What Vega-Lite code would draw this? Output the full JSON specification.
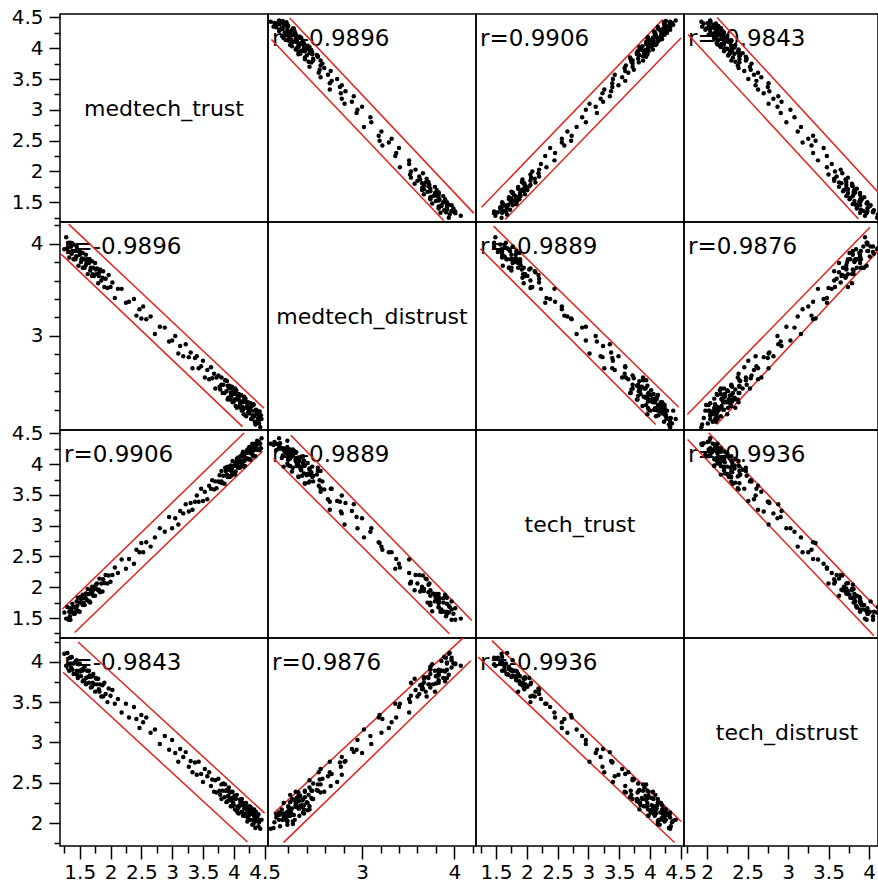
{
"$schema":"https://vega.github.io/schema/vega-lite/v6.json",
"padding":{"left":0,"top":6,"right":0,"bottom":0},
"background":"white",
"columns":4,"spacing":0,"bounds":"flush","align":"each",
"config":{
 "view":{"stroke":"#000","strokeWidth":1.5},
 "axis":{"domain":false,"grid":false,"labelFont":"DejaVu Sans","labelFontSize":20,"labelColor":"#000","tickColor":"#000","tickWidth":1.5,"labelOverlap":false,"labelFlush":false,"labelBound":false},
 "axisY":{"minExtent":59,"maxExtent":59,"labelPadding":6},
 "axisX":{"minExtent":40,"maxExtent":40,"labelPadding":3}
},
"datasets":{
"ell":[
{"pair":"mt_md","medtech_trust":1.32,"medtech_distrust":4.212,"medtech_trust_2":4.49,"medtech_distrust_2":2.215},
{"pair":"mt_md","medtech_trust":1.2,"medtech_distrust":3.886,"medtech_trust_2":4.14,"medtech_distrust_2":2.017},
{"pair":"mt_tt","medtech_trust":1.219,"tech_trust":1.646,"medtech_trust_2":4.167,"tech_trust_2":4.506},
{"pair":"mt_tt","medtech_trust":1.419,"tech_trust":1.265,"medtech_trust_2":4.465,"tech_trust_2":4.208},
{"pair":"mt_td","medtech_trust":1.473,"tech_distrust":4.245,"medtech_trust_2":4.5,"tech_distrust_2":2.124},
{"pair":"mt_td","medtech_trust":1.229,"tech_distrust":3.87,"medtech_trust_2":4.221,"tech_distrust_2":1.766},
{"pair":"md_tt","tech_trust":1.461,"medtech_distrust":4.19,"tech_trust_2":4.47,"medtech_distrust_2":2.227},
{"pair":"md_tt","tech_trust":1.245,"medtech_distrust":3.946,"tech_trust_2":4.095,"medtech_distrust_2":2.04},
{"pair":"md_td","tech_distrust":1.758,"medtech_distrust":2.148,"tech_distrust_2":4.012,"medtech_distrust_2":4.179},
{"pair":"md_td","tech_distrust":2.12,"medtech_distrust":2.04,"tech_distrust_2":4.3,"medtech_distrust_2":4.098},
{"pair":"tt_td","tech_trust":4.51,"tech_distrust":2.02,"tech_trust_2":1.433,"tech_distrust_2":4.262},
{"pair":"tt_td","tech_trust":4.4,"tech_distrust":1.76,"tech_trust_2":1.21,"tech_distrust_2":4.06}
],
"pts":[
{"medtech_trust":1.25,"medtech_distrust":3.94,"tech_trust":1.59,"tech_distrust":4.10},
{"medtech_trust":1.28,"medtech_distrust":4.07,"tech_trust":1.49,"tech_distrust":3.95},
{"medtech_trust":1.30,"medtech_distrust":3.95,"tech_trust":1.68,"tech_distrust":4.11},
{"medtech_trust":1.32,"medtech_distrust":4.01,"tech_trust":1.47,"tech_distrust":3.97},
{"medtech_trust":1.33,"medtech_distrust":3.85,"tech_trust":1.60,"tech_distrust":3.89},
{"medtech_trust":1.35,"medtech_distrust":3.97,"tech_trust":1.47,"tech_distrust":4.05},
{"medtech_trust":1.35,"medtech_distrust":4.01,"tech_trust":1.66,"tech_distrust":3.98},
{"medtech_trust":1.37,"medtech_distrust":3.89,"tech_trust":1.60,"tech_distrust":4.06},
{"medtech_trust":1.38,"medtech_distrust":3.92,"tech_trust":1.73,"tech_distrust":3.90},
{"medtech_trust":1.40,"medtech_distrust":3.99,"tech_trust":1.57,"tech_distrust":3.98},
{"medtech_trust":1.40,"medtech_distrust":3.83,"tech_trust":1.68,"tech_distrust":3.85},
{"medtech_trust":1.42,"medtech_distrust":3.92,"tech_trust":1.57,"tech_distrust":3.99},
{"medtech_trust":1.43,"medtech_distrust":3.83,"tech_trust":1.67,"tech_distrust":3.85},
{"medtech_trust":1.45,"medtech_distrust":3.97,"tech_trust":1.77,"tech_distrust":4.02},
{"medtech_trust":1.45,"medtech_distrust":3.86,"tech_trust":1.64,"tech_distrust":3.89},
{"medtech_trust":1.47,"medtech_distrust":3.92,"tech_trust":1.83,"tech_distrust":3.80},
{"medtech_trust":1.48,"medtech_distrust":3.76,"tech_trust":1.61,"tech_distrust":3.97},
{"medtech_trust":1.50,"medtech_distrust":3.88,"tech_trust":1.75,"tech_distrust":3.89},
{"medtech_trust":1.50,"medtech_distrust":3.92,"tech_trust":1.60,"tech_distrust":3.98},
{"medtech_trust":1.52,"medtech_distrust":3.80,"tech_trust":1.81,"tech_distrust":3.82},
{"medtech_trust":1.53,"medtech_distrust":3.83,"tech_trust":1.74,"tech_distrust":3.90},
{"medtech_trust":1.55,"medtech_distrust":3.90,"tech_trust":1.88,"tech_distrust":3.76},
{"medtech_trust":1.55,"medtech_distrust":3.74,"tech_trust":1.71,"tech_distrust":3.91},
{"medtech_trust":1.57,"medtech_distrust":3.83,"tech_trust":1.83,"tech_distrust":3.77},
{"medtech_trust":1.58,"medtech_distrust":3.74,"tech_trust":1.71,"tech_distrust":3.94},
{"medtech_trust":1.60,"medtech_distrust":3.88,"tech_trust":1.82,"tech_distrust":3.80},
{"medtech_trust":1.60,"medtech_distrust":3.77,"tech_trust":1.90,"tech_distrust":3.72},
{"medtech_trust":1.62,"medtech_distrust":3.83,"tech_trust":1.79,"tech_distrust":3.89},
{"medtech_trust":1.63,"medtech_distrust":3.67,"tech_trust":1.97,"tech_distrust":3.81},
{"medtech_trust":1.65,"medtech_distrust":3.79,"tech_trust":1.77,"tech_distrust":3.89},
{"medtech_trust":1.65,"medtech_distrust":3.83,"tech_trust":1.89,"tech_distrust":3.74},
{"medtech_trust":1.67,"medtech_distrust":3.71,"tech_trust":1.75,"tech_distrust":3.81},
{"medtech_trust":1.68,"medtech_distrust":3.74,"tech_trust":1.95,"tech_distrust":3.68},
{"medtech_trust":1.70,"medtech_distrust":3.81,"tech_trust":1.89,"tech_distrust":3.82},
{"medtech_trust":1.70,"medtech_distrust":3.65,"tech_trust":2.01,"tech_distrust":3.69},
{"medtech_trust":1.72,"medtech_distrust":3.74,"tech_trust":1.86,"tech_distrust":3.85},
{"medtech_trust":1.73,"medtech_distrust":3.65,"tech_trust":1.98,"tech_distrust":3.72},
{"medtech_trust":1.75,"medtech_distrust":3.79,"tech_trust":1.86,"tech_distrust":3.63},
{"medtech_trust":1.77,"medtech_distrust":3.67,"tech_trust":1.97,"tech_distrust":3.79},
{"medtech_trust":1.78,"medtech_distrust":3.73,"tech_trust":2.06,"tech_distrust":3.72},
{"medtech_trust":1.80,"medtech_distrust":3.57,"tech_trust":1.95,"tech_distrust":3.79},
{"medtech_trust":1.82,"medtech_distrust":3.69,"tech_trust":2.14,"tech_distrust":3.63},
{"medtech_trust":1.83,"medtech_distrust":3.72,"tech_trust":1.92,"tech_distrust":3.72},
{"medtech_trust":1.85,"medtech_distrust":3.60,"tech_trust":2.06,"tech_distrust":3.57},
{"medtech_trust":1.87,"medtech_distrust":3.63,"tech_trust":1.93,"tech_distrust":3.71},
{"medtech_trust":1.88,"medtech_distrust":3.70,"tech_trust":2.13,"tech_distrust":3.57},
{"medtech_trust":1.90,"medtech_distrust":3.53,"tech_trust":2.07,"tech_distrust":3.74},
{"medtech_trust":1.92,"medtech_distrust":3.62,"tech_trust":2.20,"tech_distrust":3.60},
{"medtech_trust":1.95,"medtech_distrust":3.52,"tech_trust":2.06,"tech_distrust":3.50},
{"medtech_trust":1.97,"medtech_distrust":3.66,"tech_trust":2.19,"tech_distrust":3.67},
{"medtech_trust":2.00,"medtech_distrust":3.53,"tech_trust":2.09,"tech_distrust":3.58},
{"medtech_trust":2.03,"medtech_distrust":3.58,"tech_trust":2.20,"tech_distrust":3.65},
{"medtech_trust":2.07,"medtech_distrust":3.41,"tech_trust":2.32,"tech_distrust":3.48},
{"medtech_trust":2.12,"medtech_distrust":3.51,"tech_trust":2.23,"tech_distrust":3.54},
{"medtech_trust":2.18,"medtech_distrust":3.51,"tech_trust":2.45,"tech_distrust":3.37},
{"medtech_trust":2.25,"medtech_distrust":3.36,"tech_trust":2.30,"tech_distrust":3.48},
{"medtech_trust":2.30,"medtech_distrust":3.37,"tech_trust":2.46,"tech_distrust":3.31},
{"medtech_trust":2.38,"medtech_distrust":3.40,"tech_trust":2.38,"tech_distrust":3.44},
{"medtech_trust":2.42,"medtech_distrust":3.22,"tech_trust":2.61,"tech_distrust":3.29},
{"medtech_trust":2.47,"medtech_distrust":3.29,"tech_trust":2.57,"tech_distrust":3.18},
{"medtech_trust":2.50,"medtech_distrust":3.19,"tech_trust":2.72,"tech_distrust":3.34},
{"medtech_trust":2.53,"medtech_distrust":3.32,"tech_trust":2.57,"tech_distrust":3.25},
{"medtech_trust":2.58,"medtech_distrust":3.18,"tech_trust":2.73,"tech_distrust":3.31},
{"medtech_trust":2.65,"medtech_distrust":3.21,"tech_trust":2.66,"tech_distrust":3.12},
{"medtech_trust":2.72,"medtech_distrust":3.02,"tech_trust":2.81,"tech_distrust":3.16},
{"medtech_trust":2.80,"medtech_distrust":3.10,"tech_trust":2.96,"tech_distrust":2.98},
{"medtech_trust":2.88,"medtech_distrust":3.09,"tech_trust":2.90,"tech_distrust":3.08},
{"medtech_trust":2.95,"medtech_distrust":2.94,"tech_trust":3.14,"tech_distrust":2.91},
{"medtech_trust":3.00,"medtech_distrust":2.95,"tech_trust":2.96,"tech_distrust":3.03},
{"medtech_trust":3.05,"medtech_distrust":3.00,"tech_trust":3.12,"tech_distrust":2.87},
{"medtech_trust":3.10,"medtech_distrust":2.81,"tech_trust":3.02,"tech_distrust":2.76},
{"medtech_trust":3.13,"medtech_distrust":2.89,"tech_trust":3.24,"tech_distrust":2.92},
{"medtech_trust":3.18,"medtech_distrust":2.78,"tech_trust":3.20,"tech_distrust":2.82},
{"medtech_trust":3.22,"medtech_distrust":2.91,"tech_trust":3.35,"tech_distrust":2.88},
{"medtech_trust":3.27,"medtech_distrust":2.77,"tech_trust":3.23,"tech_distrust":2.70},
{"medtech_trust":3.30,"medtech_distrust":2.82,"tech_trust":3.37,"tech_distrust":2.77},
{"medtech_trust":3.33,"medtech_distrust":2.65,"tech_trust":3.26,"tech_distrust":2.63},
{"medtech_trust":3.37,"medtech_distrust":2.76,"tech_trust":3.39,"tech_distrust":2.75},
{"medtech_trust":3.40,"medtech_distrust":2.78,"tech_trust":3.49,"tech_distrust":2.60},
{"medtech_trust":3.43,"medtech_distrust":2.65,"tech_trust":3.39,"tech_distrust":2.76},
{"medtech_trust":3.47,"medtech_distrust":2.67,"tech_trust":3.60,"tech_distrust":2.61},
{"medtech_trust":3.50,"medtech_distrust":2.73,"tech_trust":3.40,"tech_distrust":2.51},
{"medtech_trust":3.53,"medtech_distrust":2.55,"tech_trust":3.55,"tech_distrust":2.67},
{"medtech_trust":3.57,"medtech_distrust":2.63,"tech_trust":3.43,"tech_distrust":2.58},
{"medtech_trust":3.60,"medtech_distrust":2.53,"tech_trust":3.65,"tech_distrust":2.63},
{"medtech_trust":3.63,"medtech_distrust":2.66,"tech_trust":3.60,"tech_distrust":2.46},
{"medtech_trust":3.65,"medtech_distrust":2.54,"tech_trust":3.74,"tech_distrust":2.54},
{"medtech_trust":3.68,"medtech_distrust":2.59,"tech_trust":3.59,"tech_distrust":2.39},
{"medtech_trust":3.70,"medtech_distrust":2.43,"tech_trust":3.72,"tech_distrust":2.53},
{"medtech_trust":3.72,"medtech_distrust":2.55,"tech_trust":3.61,"tech_distrust":2.38},
{"medtech_trust":3.75,"medtech_distrust":2.57,"tech_trust":3.72,"tech_distrust":2.55},
{"medtech_trust":3.77,"medtech_distrust":2.45,"tech_trust":3.82,"tech_distrust":2.40},
{"medtech_trust":3.80,"medtech_distrust":2.47,"tech_trust":3.72,"tech_distrust":2.30},
{"medtech_trust":3.80,"medtech_distrust":2.55,"tech_trust":3.89,"tech_distrust":2.48},
{"medtech_trust":3.82,"medtech_distrust":2.38,"tech_trust":3.69,"tech_distrust":2.40},
{"medtech_trust":3.83,"medtech_distrust":2.47,"tech_trust":3.81,"tech_distrust":2.49},
{"medtech_trust":3.85,"medtech_distrust":2.38,"tech_trust":3.68,"tech_distrust":2.32},
{"medtech_trust":3.87,"medtech_distrust":2.52,"tech_trust":3.89,"tech_distrust":2.40},
{"medtech_trust":3.88,"medtech_distrust":2.40,"tech_trust":3.82,"tech_distrust":2.26},
{"medtech_trust":3.90,"medtech_distrust":2.46,"tech_trust":3.96,"tech_distrust":2.40},
{"medtech_trust":3.90,"medtech_distrust":2.31,"tech_trust":3.79,"tech_distrust":2.27},
{"medtech_trust":3.92,"medtech_distrust":2.43,"tech_trust":3.91,"tech_distrust":2.44},
{"medtech_trust":3.93,"medtech_distrust":2.46,"tech_trust":3.79,"tech_distrust":2.30},
{"medtech_trust":3.95,"medtech_distrust":2.34,"tech_trust":3.90,"tech_distrust":2.21},
{"medtech_trust":3.95,"medtech_distrust":2.38,"tech_trust":3.98,"tech_distrust":2.39},
{"medtech_trust":3.97,"medtech_distrust":2.45,"tech_trust":3.87,"tech_distrust":2.31},
{"medtech_trust":3.98,"medtech_distrust":2.28,"tech_trust":4.05,"tech_distrust":2.39},
{"medtech_trust":4.00,"medtech_distrust":2.37,"tech_trust":3.85,"tech_distrust":2.22},
{"medtech_trust":4.00,"medtech_distrust":2.29,"tech_trust":3.97,"tech_distrust":2.31},
{"medtech_trust":4.02,"medtech_distrust":2.43,"tech_trust":3.83,"tech_distrust":2.17},
{"medtech_trust":4.03,"medtech_distrust":2.31,"tech_trust":4.03,"tech_distrust":2.31},
{"medtech_trust":4.05,"medtech_distrust":2.37,"tech_trust":3.97,"tech_distrust":2.17},
{"medtech_trust":4.05,"medtech_distrust":2.22,"tech_trust":4.09,"tech_distrust":2.35},
{"medtech_trust":4.07,"medtech_distrust":2.34,"tech_trust":3.94,"tech_distrust":2.21},
{"medtech_trust":4.08,"medtech_distrust":2.37,"tech_trust":4.06,"tech_distrust":2.12},
{"medtech_trust":4.10,"medtech_distrust":2.25,"tech_trust":3.94,"tech_distrust":2.29},
{"medtech_trust":4.10,"medtech_distrust":2.29,"tech_trust":4.03,"tech_distrust":2.22},
{"medtech_trust":4.12,"medtech_distrust":2.36,"tech_trust":4.13,"tech_distrust":2.30},
{"medtech_trust":4.13,"medtech_distrust":2.19,"tech_trust":4.01,"tech_distrust":2.14},
{"medtech_trust":4.15,"medtech_distrust":2.28,"tech_trust":4.20,"tech_distrust":2.22},
{"medtech_trust":4.15,"medtech_distrust":2.20,"tech_trust":3.98,"tech_distrust":2.09},
{"medtech_trust":4.17,"medtech_distrust":2.34,"tech_trust":4.12,"tech_distrust":2.22},
{"medtech_trust":4.18,"medtech_distrust":2.22,"tech_trust":3.97,"tech_distrust":2.09},
{"medtech_trust":4.20,"medtech_distrust":2.28,"tech_trust":4.18,"tech_distrust":2.25},
{"medtech_trust":4.20,"medtech_distrust":2.13,"tech_trust":4.10,"tech_distrust":2.12},
{"medtech_trust":4.22,"medtech_distrust":2.25,"tech_trust":4.24,"tech_distrust":2.02},
{"medtech_trust":4.23,"medtech_distrust":2.28,"tech_trust":4.08,"tech_distrust":2.20},
{"medtech_trust":4.25,"medtech_distrust":2.16,"tech_trust":4.21,"tech_distrust":2.12},
{"medtech_trust":4.25,"medtech_distrust":2.20,"tech_trust":4.08,"tech_distrust":2.21},
{"medtech_trust":4.27,"medtech_distrust":2.27,"tech_trust":4.18,"tech_distrust":2.04},
{"medtech_trust":4.28,"medtech_distrust":2.10,"tech_trust":4.27,"tech_distrust":2.13},
{"medtech_trust":4.30,"medtech_distrust":2.19,"tech_trust":4.16,"tech_distrust":1.98},
{"medtech_trust":4.30,"medtech_distrust":2.11,"tech_trust":4.33,"tech_distrust":2.13},
{"medtech_trust":4.32,"medtech_distrust":2.25,"tech_trust":4.13,"tech_distrust":1.99},
{"medtech_trust":4.33,"medtech_distrust":2.13,"tech_trust":4.26,"tech_distrust":2.17},
{"medtech_trust":4.35,"medtech_distrust":2.19,"tech_trust":4.13,"tech_distrust":2.02},
{"medtech_trust":4.35,"medtech_distrust":2.04,"tech_trust":4.31,"tech_distrust":1.94},
{"medtech_trust":4.37,"medtech_distrust":2.16,"tech_trust":4.25,"tech_distrust":2.11},
{"medtech_trust":4.38,"medtech_distrust":2.19,"tech_trust":4.38,"tech_distrust":2.03},
{"medtech_trust":4.40,"medtech_distrust":2.07,"tech_trust":4.23,"tech_distrust":2.11},
{"medtech_trust":4.40,"medtech_distrust":2.11,"tech_trust":4.34,"tech_distrust":1.96},
{"medtech_trust":4.42,"medtech_distrust":2.18,"tech_trust":4.23,"tech_distrust":2.04},
{"medtech_trust":4.43,"medtech_distrust":2.01,"tech_trust":4.33,"tech_distrust":1.93},
{"medtech_trust":4.45,"medtech_distrust":2.10,"tech_trust":4.42,"tech_distrust":2.04},
{"medtech_trust":3.78,"medtech_distrust":2.42,"tech_trust":3.70,"tech_distrust":2.35},
{"medtech_trust":3.86,"medtech_distrust":2.52,"tech_trust":3.94,"tech_distrust":2.48},
{"medtech_trust":3.96,"medtech_distrust":2.35,"tech_trust":3.81,"tech_distrust":2.28},
{"medtech_trust":4.06,"medtech_distrust":2.36,"tech_trust":4.02,"tech_distrust":2.13},
{"medtech_trust":4.16,"medtech_distrust":2.15,"tech_trust":3.96,"tech_distrust":2.25},
{"medtech_trust":4.26,"medtech_distrust":2.22,"tech_trust":4.24,"tech_distrust":2.11},
{"medtech_trust":4.36,"medtech_distrust":2.20,"tech_trust":4.24,"tech_distrust":2.14},
{"medtech_trust":4.14,"medtech_distrust":2.23,"tech_trust":4.17,"tech_distrust":2.13},
{"medtech_trust":4.24,"medtech_distrust":2.21,"tech_trust":4.09,"tech_distrust":2.15},
{"medtech_trust":4.04,"medtech_distrust":2.41,"tech_trust":4.02,"tech_distrust":2.16},
{"medtech_trust":3.94,"medtech_distrust":2.31,"tech_trust":3.80,"tech_distrust":2.38},
{"medtech_trust":4.38,"medtech_distrust":2.15,"tech_trust":4.24,"tech_distrust":2.08},
{"medtech_trust":4.41,"medtech_distrust":2.05,"tech_trust":4.36,"tech_distrust":2.01},
{"medtech_trust":4.29,"medtech_distrust":2.24,"tech_trust":4.22,"tech_distrust":2.18},
{"medtech_trust":4.31,"medtech_distrust":2.14,"tech_trust":4.14,"tech_distrust":2.04},
{"medtech_trust":4.21,"medtech_distrust":2.22,"tech_trust":4.20,"tech_distrust":2.17},
{"medtech_trust":4.19,"medtech_distrust":2.32,"tech_trust":4.08,"tech_distrust":2.09},
{"medtech_trust":4.11,"medtech_distrust":2.22,"tech_trust":4.13,"tech_distrust":2.26},
{"medtech_trust":4.09,"medtech_distrust":2.34,"tech_trust":3.96,"tech_distrust":2.21},
{"medtech_trust":4.01,"medtech_distrust":2.31,"tech_trust":3.98,"tech_distrust":2.34},
{"medtech_trust":3.99,"medtech_distrust":2.41,"tech_trust":3.84,"tech_distrust":2.25},
{"medtech_trust":3.91,"medtech_distrust":2.33,"tech_trust":3.93,"tech_distrust":2.34},
{"medtech_trust":3.89,"medtech_distrust":2.51,"tech_trust":3.83,"tech_distrust":2.41},
{"medtech_trust":4.44,"medtech_distrust":2.14,"tech_trust":4.26,"tech_distrust":2.04},
{"medtech_trust":4.34,"medtech_distrust":2.07,"tech_trust":4.33,"tech_distrust":2.07},
{"medtech_trust":4.27,"medtech_distrust":2.20,"tech_trust":4.07,"tech_distrust":2.20},
{"medtech_trust":4.23,"medtech_distrust":2.17,"tech_trust":4.19,"tech_distrust":2.06},
{"medtech_trust":4.17,"medtech_distrust":2.32,"tech_trust":4.05,"tech_distrust":2.18},
{"medtech_trust":4.07,"medtech_distrust":2.31,"tech_trust":4.11,"tech_distrust":2.18},
{"medtech_trust":4.03,"medtech_distrust":2.24,"tech_trust":3.88,"tech_distrust":2.30},
{"medtech_trust":3.97,"medtech_distrust":2.43,"tech_trust":3.93,"tech_distrust":2.21},
{"medtech_trust":4.13,"medtech_distrust":2.29,"tech_trust":4.06,"tech_distrust":2.30},
{"medtech_trust":4.25,"medtech_distrust":2.19,"tech_trust":4.28,"tech_distrust":2.10},
{"medtech_trust":4.32,"medtech_distrust":2.26,"tech_trust":4.22,"tech_distrust":2.10},
{"medtech_trust":4.39,"medtech_distrust":2.10,"tech_trust":4.32,"tech_distrust":2.10},
{"medtech_trust":1.36,"medtech_distrust":3.97,"tech_trust":1.64,"tech_distrust":3.93},
{"medtech_trust":1.44,"medtech_distrust":3.86,"tech_trust":1.60,"tech_distrust":4.01},
{"medtech_trust":1.51,"medtech_distrust":3.90,"tech_trust":1.84,"tech_distrust":3.88},
{"medtech_trust":1.56,"medtech_distrust":3.74,"tech_trust":1.75,"tech_distrust":3.90},
{"medtech_trust":1.61,"medtech_distrust":3.80,"tech_trust":1.89,"tech_distrust":3.73},
{"medtech_trust":1.66,"medtech_distrust":3.83,"tech_trust":1.77,"tech_distrust":3.83},
{"medtech_trust":1.71,"medtech_distrust":3.67,"tech_trust":1.94,"tech_distrust":3.74},
{"medtech_trust":1.76,"medtech_distrust":3.72,"tech_trust":2.04,"tech_distrust":3.80},
{"medtech_trust":1.46,"medtech_distrust":3.94,"tech_trust":1.70,"tech_distrust":3.84},
{"medtech_trust":1.34,"medtech_distrust":3.91,"tech_trust":1.53,"tech_distrust":4.05},
{"medtech_trust":1.54,"medtech_distrust":3.84,"tech_trust":1.82,"tech_distrust":3.89},
{"medtech_trust":1.81,"medtech_distrust":3.65,"tech_trust":1.96,"tech_distrust":3.66}
]
},
"concat":[
{"width":208,"height":208,"layer":[
 {"data":{"name":"pts"},"mark":{"type":"circle","opacity":0},"encoding":{
  "x":{"field":"medtech_trust","type":"quantitative","scale":{"domain":[1.18,4.555],"zero":false,"nice":false},"axis":null},
  "y":{"field":"medtech_trust","type":"quantitative","scale":{"domain":[1.18,4.555],"zero":false,"nice":false},"axis":{"title":null,"values":[1.25,1.5,1.75,2,2.25,2.5,2.75,3,3.25,3.5,3.75,4,4.25,4.5],"format":"~g","labelExpr":"datum.value*2===round(datum.value*2)?datum.label:''","tickSize":{"condition":{"test":"datum.value*2===round(datum.value*2)","value":11},"value":6}}}}},
 {"data":{"values":[{"variable":"medtech_trust"}]},"mark":{"type":"text","font":"DejaVu Sans","fontSize":22,"color":"#000","baseline":"middle","dy":-9},"encoding":{"text":{"field":"variable"}}}
]},
{"width":208,"height":208,"layer":[
 {"data":{"values":[{"label":"r=-0.9896"}]},"mark":{"type":"text","align":"left","baseline":"alphabetic","dx":4,"dy":32,"font":"DejaVu Sans","fontSize":23,"color":"#000"},"encoding":{"x":{"datum":1.98,"type":"quantitative","scale":{"domain":[1.98,4.235],"zero":false,"nice":false},"axis":null},"y":{"datum":4.555,"type":"quantitative","scale":{"domain":[1.18,4.555],"zero":false,"nice":false},"axis":null},"text":{"field":"label"}}},
 {"data":{"name":"ell"},"transform":[{"filter":"datum.pair==='mt_md'"}],"mark":{"type":"rule","color":"#e3221c","strokeWidth":1.5,"clip":true},"encoding":{"x":{"field":"medtech_distrust","type":"quantitative","scale":{"domain":[1.98,4.235],"zero":false,"nice":false},"axis":null},"y":{"field":"medtech_trust","type":"quantitative","scale":{"domain":[1.18,4.555],"zero":false,"nice":false},"axis":null},"x2":{"field":"medtech_distrust_2"},"y2":{"field":"medtech_trust_2"}}},
 {"data":{"name":"pts"},"mark":{"type":"circle","size":20,"color":"#000","opacity":1},"encoding":{"x":{"field":"medtech_distrust","type":"quantitative","scale":{"domain":[1.98,4.235],"zero":false,"nice":false},"axis":null},"y":{"field":"medtech_trust","type":"quantitative","scale":{"domain":[1.18,4.555],"zero":false,"nice":false},"axis":null}}}
]},
{"width":208,"height":208,"layer":[
 {"data":{"values":[{"label":"r=0.9906"}]},"mark":{"type":"text","align":"left","baseline":"alphabetic","dx":4,"dy":32,"font":"DejaVu Sans","fontSize":23,"color":"#000"},"encoding":{"x":{"datum":1.175,"type":"quantitative","scale":{"domain":[1.175,4.555],"zero":false,"nice":false},"axis":null},"y":{"datum":4.555,"type":"quantitative","scale":{"domain":[1.18,4.555],"zero":false,"nice":false},"axis":null},"text":{"field":"label"}}},
 {"data":{"name":"ell"},"transform":[{"filter":"datum.pair==='mt_tt'"}],"mark":{"type":"rule","color":"#e3221c","strokeWidth":1.5,"clip":true},"encoding":{"x":{"field":"tech_trust","type":"quantitative","scale":{"domain":[1.175,4.555],"zero":false,"nice":false},"axis":null},"y":{"field":"medtech_trust","type":"quantitative","scale":{"domain":[1.18,4.555],"zero":false,"nice":false},"axis":null},"x2":{"field":"tech_trust_2"},"y2":{"field":"medtech_trust_2"}}},
 {"data":{"name":"pts"},"mark":{"type":"circle","size":20,"color":"#000","opacity":1},"encoding":{"x":{"field":"tech_trust","type":"quantitative","scale":{"domain":[1.175,4.555],"zero":false,"nice":false},"axis":null},"y":{"field":"medtech_trust","type":"quantitative","scale":{"domain":[1.18,4.555],"zero":false,"nice":false},"axis":null}}}
]},
{"width":194,"height":208,"layer":[
 {"data":{"values":[{"label":"r=-0.9843"}]},"mark":{"type":"text","align":"left","baseline":"alphabetic","dx":4,"dy":32,"font":"DejaVu Sans","fontSize":23,"color":"#000"},"encoding":{"x":{"datum":1.716,"type":"quantitative","scale":{"domain":[1.716,4.111],"zero":false,"nice":false},"axis":null},"y":{"datum":4.555,"type":"quantitative","scale":{"domain":[1.18,4.555],"zero":false,"nice":false},"axis":null},"text":{"field":"label"}}},
 {"data":{"name":"ell"},"transform":[{"filter":"datum.pair==='mt_td'"}],"mark":{"type":"rule","color":"#e3221c","strokeWidth":1.5,"clip":true},"encoding":{"x":{"field":"tech_distrust","type":"quantitative","scale":{"domain":[1.716,4.111],"zero":false,"nice":false},"axis":null},"y":{"field":"medtech_trust","type":"quantitative","scale":{"domain":[1.18,4.555],"zero":false,"nice":false},"axis":null},"x2":{"field":"tech_distrust_2"},"y2":{"field":"medtech_trust_2"}}},
 {"data":{"name":"pts"},"mark":{"type":"circle","size":20,"color":"#000","opacity":1},"encoding":{"x":{"field":"tech_distrust","type":"quantitative","scale":{"domain":[1.716,4.111],"zero":false,"nice":false},"axis":null},"y":{"field":"medtech_trust","type":"quantitative","scale":{"domain":[1.18,4.555],"zero":false,"nice":false},"axis":null}}}
]},

{"width":208,"height":208,"layer":[
 {"data":{"values":[{"label":"r=-0.9896"}]},"mark":{"type":"text","align":"left","baseline":"alphabetic","dx":4,"dy":32,"font":"DejaVu Sans","fontSize":23,"color":"#000"},"encoding":{"x":{"datum":1.18,"type":"quantitative","scale":{"domain":[1.18,4.555],"zero":false,"nice":false},"axis":null},"y":{"datum":4.235,"type":"quantitative","scale":{"domain":[1.98,4.235],"zero":false,"nice":false},"axis":{"title":null,"values":[2.2,2.4,2.6,2.8,3,3.2,3.4,3.6,3.8,4,4.2],"format":"~g","labelExpr":"datum.value===3||datum.value===4?datum.label:''","tickSize":{"condition":{"test":"datum.value===3||datum.value===4","value":11},"value":6}}},"text":{"field":"label"}}},
 {"data":{"name":"ell"},"transform":[{"filter":"datum.pair==='mt_md'"}],"mark":{"type":"rule","color":"#e3221c","strokeWidth":1.5,"clip":true},"encoding":{"x":{"field":"medtech_trust","type":"quantitative","scale":{"domain":[1.18,4.555],"zero":false,"nice":false},"axis":null},"y":{"field":"medtech_distrust","type":"quantitative","scale":{"domain":[1.98,4.235],"zero":false,"nice":false},"axis":{"title":null,"values":[2.2,2.4,2.6,2.8,3,3.2,3.4,3.6,3.8,4,4.2],"format":"~g","labelExpr":"datum.value===3||datum.value===4?datum.label:''","tickSize":{"condition":{"test":"datum.value===3||datum.value===4","value":11},"value":6}}},"x2":{"field":"medtech_trust_2"},"y2":{"field":"medtech_distrust_2"}}},
 {"data":{"name":"pts"},"mark":{"type":"circle","size":20,"color":"#000","opacity":1},"encoding":{"x":{"field":"medtech_trust","type":"quantitative","scale":{"domain":[1.18,4.555],"zero":false,"nice":false},"axis":null},"y":{"field":"medtech_distrust","type":"quantitative","scale":{"domain":[1.98,4.235],"zero":false,"nice":false},"axis":{"title":null,"values":[2.2,2.4,2.6,2.8,3,3.2,3.4,3.6,3.8,4,4.2],"format":"~g","labelExpr":"datum.value===3||datum.value===4?datum.label:''","tickSize":{"condition":{"test":"datum.value===3||datum.value===4","value":11},"value":6}}}}}
]},
{"width":208,"height":208,"layer":[
 {"data":{"name":"pts"},"mark":{"type":"circle","opacity":0},"encoding":{
  "x":{"field":"medtech_distrust","type":"quantitative","scale":{"domain":[1.98,4.235],"zero":false,"nice":false},"axis":null},
  "y":{"field":"medtech_distrust","type":"quantitative","scale":{"domain":[1.98,4.235],"zero":false,"nice":false},"axis":null}}},
 {"data":{"values":[{"variable":"medtech_distrust"}]},"mark":{"type":"text","font":"DejaVu Sans","fontSize":22,"color":"#000","baseline":"middle","dy":-9},"encoding":{"text":{"field":"variable"}}}
]},
{"width":208,"height":208,"layer":[
 {"data":{"values":[{"label":"r=-0.9889"}]},"mark":{"type":"text","align":"left","baseline":"alphabetic","dx":4,"dy":32,"font":"DejaVu Sans","fontSize":23,"color":"#000"},"encoding":{"x":{"datum":1.175,"type":"quantitative","scale":{"domain":[1.175,4.555],"zero":false,"nice":false},"axis":null},"y":{"datum":4.235,"type":"quantitative","scale":{"domain":[1.98,4.235],"zero":false,"nice":false},"axis":null},"text":{"field":"label"}}},
 {"data":{"name":"ell"},"transform":[{"filter":"datum.pair==='md_tt'"}],"mark":{"type":"rule","color":"#e3221c","strokeWidth":1.5,"clip":true},"encoding":{"x":{"field":"tech_trust","type":"quantitative","scale":{"domain":[1.175,4.555],"zero":false,"nice":false},"axis":null},"y":{"field":"medtech_distrust","type":"quantitative","scale":{"domain":[1.98,4.235],"zero":false,"nice":false},"axis":null},"x2":{"field":"tech_trust_2"},"y2":{"field":"medtech_distrust_2"}}},
 {"data":{"name":"pts"},"mark":{"type":"circle","size":20,"color":"#000","opacity":1},"encoding":{"x":{"field":"tech_trust","type":"quantitative","scale":{"domain":[1.175,4.555],"zero":false,"nice":false},"axis":null},"y":{"field":"medtech_distrust","type":"quantitative","scale":{"domain":[1.98,4.235],"zero":false,"nice":false},"axis":null}}}
]},
{"width":194,"height":208,"layer":[
 {"data":{"values":[{"label":"r=0.9876"}]},"mark":{"type":"text","align":"left","baseline":"alphabetic","dx":4,"dy":32,"font":"DejaVu Sans","fontSize":23,"color":"#000"},"encoding":{"x":{"datum":1.716,"type":"quantitative","scale":{"domain":[1.716,4.111],"zero":false,"nice":false},"axis":null},"y":{"datum":4.235,"type":"quantitative","scale":{"domain":[1.98,4.235],"zero":false,"nice":false},"axis":null},"text":{"field":"label"}}},
 {"data":{"name":"ell"},"transform":[{"filter":"datum.pair==='md_td'"}],"mark":{"type":"rule","color":"#e3221c","strokeWidth":1.5,"clip":true},"encoding":{"x":{"field":"tech_distrust","type":"quantitative","scale":{"domain":[1.716,4.111],"zero":false,"nice":false},"axis":null},"y":{"field":"medtech_distrust","type":"quantitative","scale":{"domain":[1.98,4.235],"zero":false,"nice":false},"axis":null},"x2":{"field":"tech_distrust_2"},"y2":{"field":"medtech_distrust_2"}}},
 {"data":{"name":"pts"},"mark":{"type":"circle","size":20,"color":"#000","opacity":1},"encoding":{"x":{"field":"tech_distrust","type":"quantitative","scale":{"domain":[1.716,4.111],"zero":false,"nice":false},"axis":null},"y":{"field":"medtech_distrust","type":"quantitative","scale":{"domain":[1.98,4.235],"zero":false,"nice":false},"axis":null}}}
]},

{"width":208,"height":208,"layer":[
 {"data":{"values":[{"label":"r=0.9906"}]},"mark":{"type":"text","align":"left","baseline":"alphabetic","dx":4,"dy":32,"font":"DejaVu Sans","fontSize":23,"color":"#000"},"encoding":{"x":{"datum":1.18,"type":"quantitative","scale":{"domain":[1.18,4.555],"zero":false,"nice":false},"axis":null},"y":{"datum":4.555,"type":"quantitative","scale":{"domain":[1.175,4.555],"zero":false,"nice":false},"axis":{"title":null,"values":[1.25,1.5,1.75,2,2.25,2.5,2.75,3,3.25,3.5,3.75,4,4.25,4.5],"format":"~g","labelExpr":"datum.value*2===round(datum.value*2)?datum.label:''","tickSize":{"condition":{"test":"datum.value*2===round(datum.value*2)","value":11},"value":6}}},"text":{"field":"label"}}},
 {"data":{"name":"ell"},"transform":[{"filter":"datum.pair==='mt_tt'"}],"mark":{"type":"rule","color":"#e3221c","strokeWidth":1.5,"clip":true},"encoding":{"x":{"field":"medtech_trust","type":"quantitative","scale":{"domain":[1.18,4.555],"zero":false,"nice":false},"axis":null},"y":{"field":"tech_trust","type":"quantitative","scale":{"domain":[1.175,4.555],"zero":false,"nice":false},"axis":{"title":null,"values":[1.25,1.5,1.75,2,2.25,2.5,2.75,3,3.25,3.5,3.75,4,4.25,4.5],"format":"~g","labelExpr":"datum.value*2===round(datum.value*2)?datum.label:''","tickSize":{"condition":{"test":"datum.value*2===round(datum.value*2)","value":11},"value":6}}},"x2":{"field":"medtech_trust_2"},"y2":{"field":"tech_trust_2"}}},
 {"data":{"name":"pts"},"mark":{"type":"circle","size":20,"color":"#000","opacity":1},"encoding":{"x":{"field":"medtech_trust","type":"quantitative","scale":{"domain":[1.18,4.555],"zero":false,"nice":false},"axis":null},"y":{"field":"tech_trust","type":"quantitative","scale":{"domain":[1.175,4.555],"zero":false,"nice":false},"axis":{"title":null,"values":[1.25,1.5,1.75,2,2.25,2.5,2.75,3,3.25,3.5,3.75,4,4.25,4.5],"format":"~g","labelExpr":"datum.value*2===round(datum.value*2)?datum.label:''","tickSize":{"condition":{"test":"datum.value*2===round(datum.value*2)","value":11},"value":6}}}}}
]},
{"width":208,"height":208,"layer":[
 {"data":{"values":[{"label":"r=-0.9889"}]},"mark":{"type":"text","align":"left","baseline":"alphabetic","dx":4,"dy":32,"font":"DejaVu Sans","fontSize":23,"color":"#000"},"encoding":{"x":{"datum":1.98,"type":"quantitative","scale":{"domain":[1.98,4.235],"zero":false,"nice":false},"axis":null},"y":{"datum":4.555,"type":"quantitative","scale":{"domain":[1.175,4.555],"zero":false,"nice":false},"axis":null},"text":{"field":"label"}}},
 {"data":{"name":"ell"},"transform":[{"filter":"datum.pair==='md_tt'"}],"mark":{"type":"rule","color":"#e3221c","strokeWidth":1.5,"clip":true},"encoding":{"x":{"field":"medtech_distrust","type":"quantitative","scale":{"domain":[1.98,4.235],"zero":false,"nice":false},"axis":null},"y":{"field":"tech_trust","type":"quantitative","scale":{"domain":[1.175,4.555],"zero":false,"nice":false},"axis":null},"x2":{"field":"medtech_distrust_2"},"y2":{"field":"tech_trust_2"}}},
 {"data":{"name":"pts"},"mark":{"type":"circle","size":20,"color":"#000","opacity":1},"encoding":{"x":{"field":"medtech_distrust","type":"quantitative","scale":{"domain":[1.98,4.235],"zero":false,"nice":false},"axis":null},"y":{"field":"tech_trust","type":"quantitative","scale":{"domain":[1.175,4.555],"zero":false,"nice":false},"axis":null}}}
]},
{"width":208,"height":208,"layer":[
 {"data":{"name":"pts"},"mark":{"type":"circle","opacity":0},"encoding":{
  "x":{"field":"tech_trust","type":"quantitative","scale":{"domain":[1.175,4.555],"zero":false,"nice":false},"axis":null},
  "y":{"field":"tech_trust","type":"quantitative","scale":{"domain":[1.175,4.555],"zero":false,"nice":false},"axis":null}}},
 {"data":{"values":[{"variable":"tech_trust"}]},"mark":{"type":"text","font":"DejaVu Sans","fontSize":22,"color":"#000","baseline":"middle","dy":-9},"encoding":{"text":{"field":"variable"}}}
]},
{"width":194,"height":208,"layer":[
 {"data":{"values":[{"label":"r=-0.9936"}]},"mark":{"type":"text","align":"left","baseline":"alphabetic","dx":4,"dy":32,"font":"DejaVu Sans","fontSize":23,"color":"#000"},"encoding":{"x":{"datum":1.716,"type":"quantitative","scale":{"domain":[1.716,4.111],"zero":false,"nice":false},"axis":null},"y":{"datum":4.555,"type":"quantitative","scale":{"domain":[1.175,4.555],"zero":false,"nice":false},"axis":null},"text":{"field":"label"}}},
 {"data":{"name":"ell"},"transform":[{"filter":"datum.pair==='tt_td'"}],"mark":{"type":"rule","color":"#e3221c","strokeWidth":1.5,"clip":true},"encoding":{"x":{"field":"tech_distrust","type":"quantitative","scale":{"domain":[1.716,4.111],"zero":false,"nice":false},"axis":null},"y":{"field":"tech_trust","type":"quantitative","scale":{"domain":[1.175,4.555],"zero":false,"nice":false},"axis":null},"x2":{"field":"tech_distrust_2"},"y2":{"field":"tech_trust_2"}}},
 {"data":{"name":"pts"},"mark":{"type":"circle","size":20,"color":"#000","opacity":1},"encoding":{"x":{"field":"tech_distrust","type":"quantitative","scale":{"domain":[1.716,4.111],"zero":false,"nice":false},"axis":null},"y":{"field":"tech_trust","type":"quantitative","scale":{"domain":[1.175,4.555],"zero":false,"nice":false},"axis":null}}}
]},

{"width":208,"height":208,"layer":[
 {"data":{"values":[{"label":"r=-0.9843"}]},"mark":{"type":"text","align":"left","baseline":"alphabetic","dx":4,"dy":32,"font":"DejaVu Sans","fontSize":23,"color":"#000"},"encoding":{"x":{"datum":1.18,"type":"quantitative","scale":{"domain":[1.18,4.555],"zero":false,"nice":false},"axis":{"title":null,"values":[1.25,1.5,1.75,2,2.25,2.5,2.75,3,3.25,3.5,3.75,4,4.25,4.5],"format":"~g","labelExpr":"datum.value*2===round(datum.value*2)?datum.label:''","tickSize":{"condition":{"test":"datum.value*2===round(datum.value*2)","value":13},"value":7}}},"y":{"datum":4.295,"type":"quantitative","scale":{"domain":[1.716,4.295],"zero":false,"nice":false},"axis":{"title":null,"values":[1.75,2,2.25,2.5,2.75,3,3.25,3.5,3.75,4,4.25],"format":"~g","labelExpr":"datum.value*2===round(datum.value*2)?datum.label:''","tickSize":{"condition":{"test":"datum.value*2===round(datum.value*2)","value":11},"value":6}}},"text":{"field":"label"}}},
 {"data":{"name":"ell"},"transform":[{"filter":"datum.pair==='mt_td'"}],"mark":{"type":"rule","color":"#e3221c","strokeWidth":1.5,"clip":true},"encoding":{"x":{"field":"medtech_trust","type":"quantitative","scale":{"domain":[1.18,4.555],"zero":false,"nice":false},"axis":{"title":null,"values":[1.25,1.5,1.75,2,2.25,2.5,2.75,3,3.25,3.5,3.75,4,4.25,4.5],"format":"~g","labelExpr":"datum.value*2===round(datum.value*2)?datum.label:''","tickSize":{"condition":{"test":"datum.value*2===round(datum.value*2)","value":13},"value":7}}},"y":{"field":"tech_distrust","type":"quantitative","scale":{"domain":[1.716,4.295],"zero":false,"nice":false},"axis":{"title":null,"values":[1.75,2,2.25,2.5,2.75,3,3.25,3.5,3.75,4,4.25],"format":"~g","labelExpr":"datum.value*2===round(datum.value*2)?datum.label:''","tickSize":{"condition":{"test":"datum.value*2===round(datum.value*2)","value":11},"value":6}}},"x2":{"field":"medtech_trust_2"},"y2":{"field":"tech_distrust_2"}}},
 {"data":{"name":"pts"},"mark":{"type":"circle","size":20,"color":"#000","opacity":1},"encoding":{"x":{"field":"medtech_trust","type":"quantitative","scale":{"domain":[1.18,4.555],"zero":false,"nice":false},"axis":{"title":null,"values":[1.25,1.5,1.75,2,2.25,2.5,2.75,3,3.25,3.5,3.75,4,4.25,4.5],"format":"~g","labelExpr":"datum.value*2===round(datum.value*2)?datum.label:''","tickSize":{"condition":{"test":"datum.value*2===round(datum.value*2)","value":13},"value":7}}},"y":{"field":"tech_distrust","type":"quantitative","scale":{"domain":[1.716,4.295],"zero":false,"nice":false},"axis":{"title":null,"values":[1.75,2,2.25,2.5,2.75,3,3.25,3.5,3.75,4,4.25],"format":"~g","labelExpr":"datum.value*2===round(datum.value*2)?datum.label:''","tickSize":{"condition":{"test":"datum.value*2===round(datum.value*2)","value":11},"value":6}}}}}
]},
{"width":208,"height":208,"layer":[
 {"data":{"values":[{"label":"r=0.9876"}]},"mark":{"type":"text","align":"left","baseline":"alphabetic","dx":4,"dy":32,"font":"DejaVu Sans","fontSize":23,"color":"#000"},"encoding":{"x":{"datum":1.98,"type":"quantitative","scale":{"domain":[1.98,4.235],"zero":false,"nice":false},"axis":{"title":null,"values":[2.2,2.4,2.6,2.8,3,3.2,3.4,3.6,3.8,4,4.2],"format":"~g","labelExpr":"datum.value===3||datum.value===4?datum.label:''","tickSize":{"condition":{"test":"datum.value===3||datum.value===4","value":13},"value":7}}},"y":{"datum":4.295,"type":"quantitative","scale":{"domain":[1.716,4.295],"zero":false,"nice":false},"axis":null},"text":{"field":"label"}}},
 {"data":{"name":"ell"},"transform":[{"filter":"datum.pair==='md_td'"}],"mark":{"type":"rule","color":"#e3221c","strokeWidth":1.5,"clip":true},"encoding":{"x":{"field":"medtech_distrust","type":"quantitative","scale":{"domain":[1.98,4.235],"zero":false,"nice":false},"axis":{"title":null,"values":[2.2,2.4,2.6,2.8,3,3.2,3.4,3.6,3.8,4,4.2],"format":"~g","labelExpr":"datum.value===3||datum.value===4?datum.label:''","tickSize":{"condition":{"test":"datum.value===3||datum.value===4","value":13},"value":7}}},"y":{"field":"tech_distrust","type":"quantitative","scale":{"domain":[1.716,4.295],"zero":false,"nice":false},"axis":null},"x2":{"field":"medtech_distrust_2"},"y2":{"field":"tech_distrust_2"}}},
 {"data":{"name":"pts"},"mark":{"type":"circle","size":20,"color":"#000","opacity":1},"encoding":{"x":{"field":"medtech_distrust","type":"quantitative","scale":{"domain":[1.98,4.235],"zero":false,"nice":false},"axis":{"title":null,"values":[2.2,2.4,2.6,2.8,3,3.2,3.4,3.6,3.8,4,4.2],"format":"~g","labelExpr":"datum.value===3||datum.value===4?datum.label:''","tickSize":{"condition":{"test":"datum.value===3||datum.value===4","value":13},"value":7}}},"y":{"field":"tech_distrust","type":"quantitative","scale":{"domain":[1.716,4.295],"zero":false,"nice":false},"axis":null}}}
]},
{"width":208,"height":208,"layer":[
 {"data":{"values":[{"label":"r=-0.9936"}]},"mark":{"type":"text","align":"left","baseline":"alphabetic","dx":4,"dy":32,"font":"DejaVu Sans","fontSize":23,"color":"#000"},"encoding":{"x":{"datum":1.175,"type":"quantitative","scale":{"domain":[1.175,4.555],"zero":false,"nice":false},"axis":{"title":null,"values":[1.25,1.5,1.75,2,2.25,2.5,2.75,3,3.25,3.5,3.75,4,4.25,4.5],"format":"~g","labelExpr":"datum.value*2===round(datum.value*2)?datum.label:''","tickSize":{"condition":{"test":"datum.value*2===round(datum.value*2)","value":13},"value":7}}},"y":{"datum":4.295,"type":"quantitative","scale":{"domain":[1.716,4.295],"zero":false,"nice":false},"axis":null},"text":{"field":"label"}}},
 {"data":{"name":"ell"},"transform":[{"filter":"datum.pair==='tt_td'"}],"mark":{"type":"rule","color":"#e3221c","strokeWidth":1.5,"clip":true},"encoding":{"x":{"field":"tech_trust","type":"quantitative","scale":{"domain":[1.175,4.555],"zero":false,"nice":false},"axis":{"title":null,"values":[1.25,1.5,1.75,2,2.25,2.5,2.75,3,3.25,3.5,3.75,4,4.25,4.5],"format":"~g","labelExpr":"datum.value*2===round(datum.value*2)?datum.label:''","tickSize":{"condition":{"test":"datum.value*2===round(datum.value*2)","value":13},"value":7}}},"y":{"field":"tech_distrust","type":"quantitative","scale":{"domain":[1.716,4.295],"zero":false,"nice":false},"axis":null},"x2":{"field":"tech_trust_2"},"y2":{"field":"tech_distrust_2"}}},
 {"data":{"name":"pts"},"mark":{"type":"circle","size":20,"color":"#000","opacity":1},"encoding":{"x":{"field":"tech_trust","type":"quantitative","scale":{"domain":[1.175,4.555],"zero":false,"nice":false},"axis":{"title":null,"values":[1.25,1.5,1.75,2,2.25,2.5,2.75,3,3.25,3.5,3.75,4,4.25,4.5],"format":"~g","labelExpr":"datum.value*2===round(datum.value*2)?datum.label:''","tickSize":{"condition":{"test":"datum.value*2===round(datum.value*2)","value":13},"value":7}}},"y":{"field":"tech_distrust","type":"quantitative","scale":{"domain":[1.716,4.295],"zero":false,"nice":false},"axis":null}}}
]},
{"width":194,"height":208,"layer":[
 {"data":{"name":"pts"},"mark":{"type":"circle","opacity":0},"encoding":{
  "x":{"field":"tech_distrust","type":"quantitative","scale":{"domain":[1.716,4.111],"zero":false,"nice":false},"axis":{"title":null,"values":[1.75,2,2.25,2.5,2.75,3,3.25,3.5,3.75,4],"format":"~g","labelExpr":"datum.value*2===round(datum.value*2)?datum.label:''","tickSize":{"condition":{"test":"datum.value*2===round(datum.value*2)","value":13},"value":7}}},
  "y":{"field":"tech_distrust","type":"quantitative","scale":{"domain":[1.716,4.295],"zero":false,"nice":false},"axis":null}}},
 {"data":{"values":[{"variable":"tech_distrust"}]},"mark":{"type":"text","font":"DejaVu Sans","fontSize":22,"color":"#000","baseline":"middle","dy":-9,"dx":6},"encoding":{"text":{"field":"variable"}}}
]}
]
}
